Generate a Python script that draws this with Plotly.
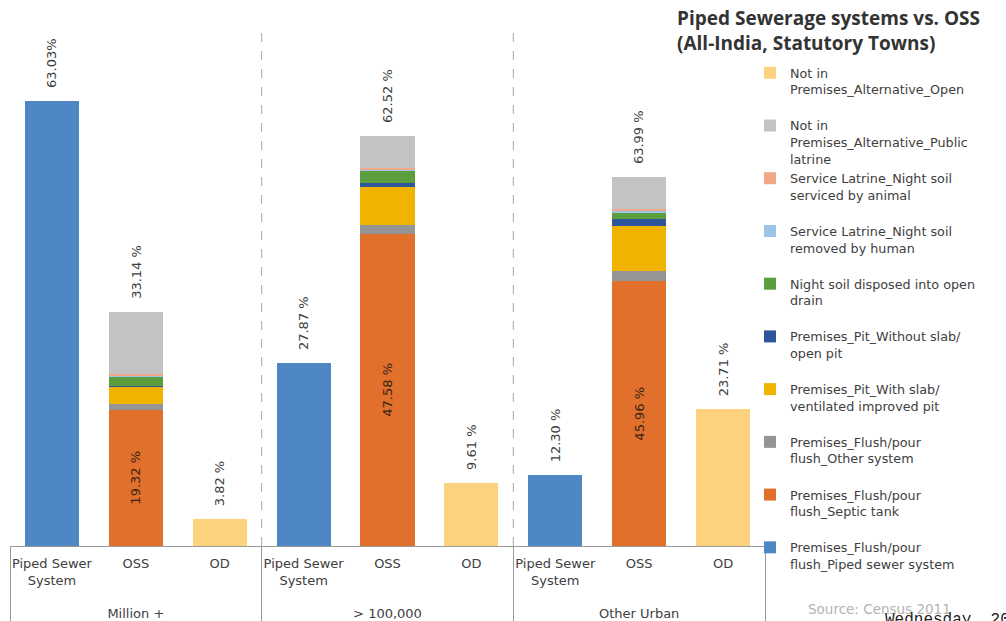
import plotly.graph_objects as go

# ---------------- data ----------------
groups = ["Million +", "> 100,000", "Other Urban"]
cats = ["Piped Sewer<br>System<br>&nbsp;", "OSS", "OD"]

piped = [63.03, 27.87, 12.30]          # Premises_Flush/pour flush_Piped sewer system
septic = [19.32, 47.58, 45.96]         # Premises_Flush/pour flush_Septic tank
other_sys = [0.8, 1.5, 1.7]            # Premises_Flush/pour flush_Other system
pit_slab = [2.4, 5.8, 7.8]             # Premises_Pit_With slab/ventilated improved pit
pit_noslab = [0.1, 0.6, 1.2]           # Premises_Pit_Without slab/open pit
drain = [1.4, 1.8, 1.0]                # Night soil disposed into open drain
human = [0.1, 0.2, 0.4]                # Service Latrine_Night soil removed by human
animal = [0.2, 0.3, 0.4]               # Service Latrine_Night soil serviced by animal
public = [8.82, 4.74, 5.53]            # Not in Premises_Alternative_Public latrine
od = [3.82, 9.61, 23.71]               # Not in Premises_Alternative_Open
oss_total = [33.14, 62.52, 63.99]

top_labels = [["63.03%", "33.14 %", "3.82 %"],
              ["27.87 %", "62.52 %", "9.61 %"],
              ["12.30 %", "63.99 %", "23.71 %"]]
septic_labels = ["19.32 %", "47.58 %", "45.96 %"]

# each group was drawn on its own value scale in the source chart
y_tops = [74.5, 80.3, 91.2]

series = [
    # (legend name, values, category index, colour)
    ("Premises_Flush/pour<br>flush_Piped sewer system", piped, 0, "#4f87c5"),
    ("Premises_Flush/pour<br>flush_Septic tank", septic, 1, "#e0702c"),
    ("Premises_Flush/pour<br>flush_Other system", other_sys, 1, "#959595"),
    ("Premises_Pit_With slab/<br>ventilated improved pit", pit_slab, 1, "#f0b400"),
    ("Premises_Pit_Without slab/<br>open pit", pit_noslab, 1, "#2f559a"),
    ("Night soil disposed into open<br>drain", drain, 1, "#5a9e3e"),
    ("Service Latrine_Night soil<br>removed by human", human, 1, "#9dc3e6"),
    ("Service Latrine_Night soil<br>serviced by animal", animal, 1, "#f0a888"),
    ("Not in<br>Premises_Alternative_Public<br>latrine", public, 1, "#c3c3c3"),
    ("Not in<br>Premises_Alternative_Open", od, 2, "#fdd27e"),
]

# ---------------- layout helpers (pixel geometry) ----------------
W, H = 1006, 621
L, R, T, B = 10, 765, 20, 546


def paper_x(px):
    return (px - L) / (R - L)


def paper_y(py):
    return (B - py) / (B - T)


FONT = "DejaVu Sans"
TXT = "#404040"

fig = go.Figure()
yaxes = ["y", "y2", "y3"]

for si, (name, vals, ci, col) in enumerate(series):
    for gi, g in enumerate(groups):
        label = name if name.count("<br>") >= 2 else name + "<br>&nbsp;"
        fig.add_trace(go.Bar(
            x=[[g], [cats[ci]]],
            y=[vals[gi]],
            yaxis=yaxes[gi],
            name=label,
            legendgroup=name,
            legendrank=100 - si,
            showlegend=(gi == 0),
            marker=dict(color=col, line=dict(width=0)),
            hoverinfo="skip",
        ))

annotations = []
for gi in range(len(groups)):
    tops = [piped[gi], oss_total[gi], od[gi]]
    for ci in range(len(cats)):
        annotations.append(dict(
            x=gi * len(cats) + ci, y=tops[ci], xref="x", yref=yaxes[gi],
            text=top_labels[gi][ci], textangle=-90, showarrow=False,
            xanchor="center", yanchor="bottom", yshift=11,
            font=dict(family=FONT, size=13, color=TXT),
        ))
    annotations.append(dict(
        x=gi * len(cats) + 1, y=septic[gi] / 2, xref="x", yref=yaxes[gi],
        text=septic_labels[gi], textangle=-90, showarrow=False,
        xanchor="center", yanchor="middle",
        font=dict(family=FONT, size=13, color="#3a2418"),
    ))

annotations.append(dict(
    x=paper_x(675), y=paper_y(3), xref="paper", yref="paper",
    text="<b>Piped Sewerage systems vs. OSS<br>(All-India, Statutory Towns)</b>",
    showarrow=False, xanchor="left", yanchor="top", align="left",
    font=dict(family="Open Sans", size=19, color="#333333"),
))
annotations.append(dict(
    x=paper_x(806), y=paper_y(609), xref="paper", yref="paper",
    text="Source: Census 2011", showarrow=False, xanchor="left", yanchor="middle",
    font=dict(family=FONT, size=13.5, color="#b3b3b3"),
))
annotations.append(dict(
    x=paper_x(883), y=paper_y(609), xref="paper", yref="paper",
    text="Wednesday, 20", showarrow=False, xanchor="left", yanchor="top",
    font=dict(family="Liberation Mono", size=16, color="#222222"),
))

shapes = []
for k in (1, 2):
    xs = k * len(cats) - 0.5
    shapes.append(dict(type="line", xref="x", yref="paper",
                       x0=xs, x1=xs, y0=0, y1=paper_y(30),
                       line=dict(color="#a6a6a6", width=1, dash="dash")))

fig.update_layout(
    width=W, height=H,
    margin=dict(l=L, r=W - R, t=T, b=H - B, autoexpand=False),
    paper_bgcolor="white", plot_bgcolor="white",
    barmode="stack", bargap=0.356,
    xaxis=dict(
        type="multicategory", range=[-0.5, len(groups) * len(cats) - 0.5],
        showline=True, linecolor="#9a9a9a", linewidth=1,
        showgrid=False, ticks="outside", tickson="labels", ticklen=5,
        tickcolor="rgba(0,0,0,0)", tickangle=0,
        showdividers=True, dividercolor="#9a9a9a", dividerwidth=1,
        tickfont=dict(family=FONT, size=13, color=TXT),
    ),
    yaxis=dict(range=[0, y_tops[0]], visible=False, fixedrange=True),
    yaxis2=dict(range=[0, y_tops[1]], visible=False, overlaying="y"),
    yaxis3=dict(range=[0, y_tops[2]], visible=False, overlaying="y"),
    legend=dict(
        x=paper_x(750), y=1 - 58 / H, xanchor="left", yanchor="top",
        xref="paper", yref="container", maxheight=1,
        traceorder="grouped", tracegroupgap=0, valign="top",
        font=dict(family=FONT, size=12.75, color=TXT),
        bgcolor="rgba(0,0,0,0)",
    ),
    annotations=annotations,
    shapes=shapes,
)

fig.write_html("out.html")
